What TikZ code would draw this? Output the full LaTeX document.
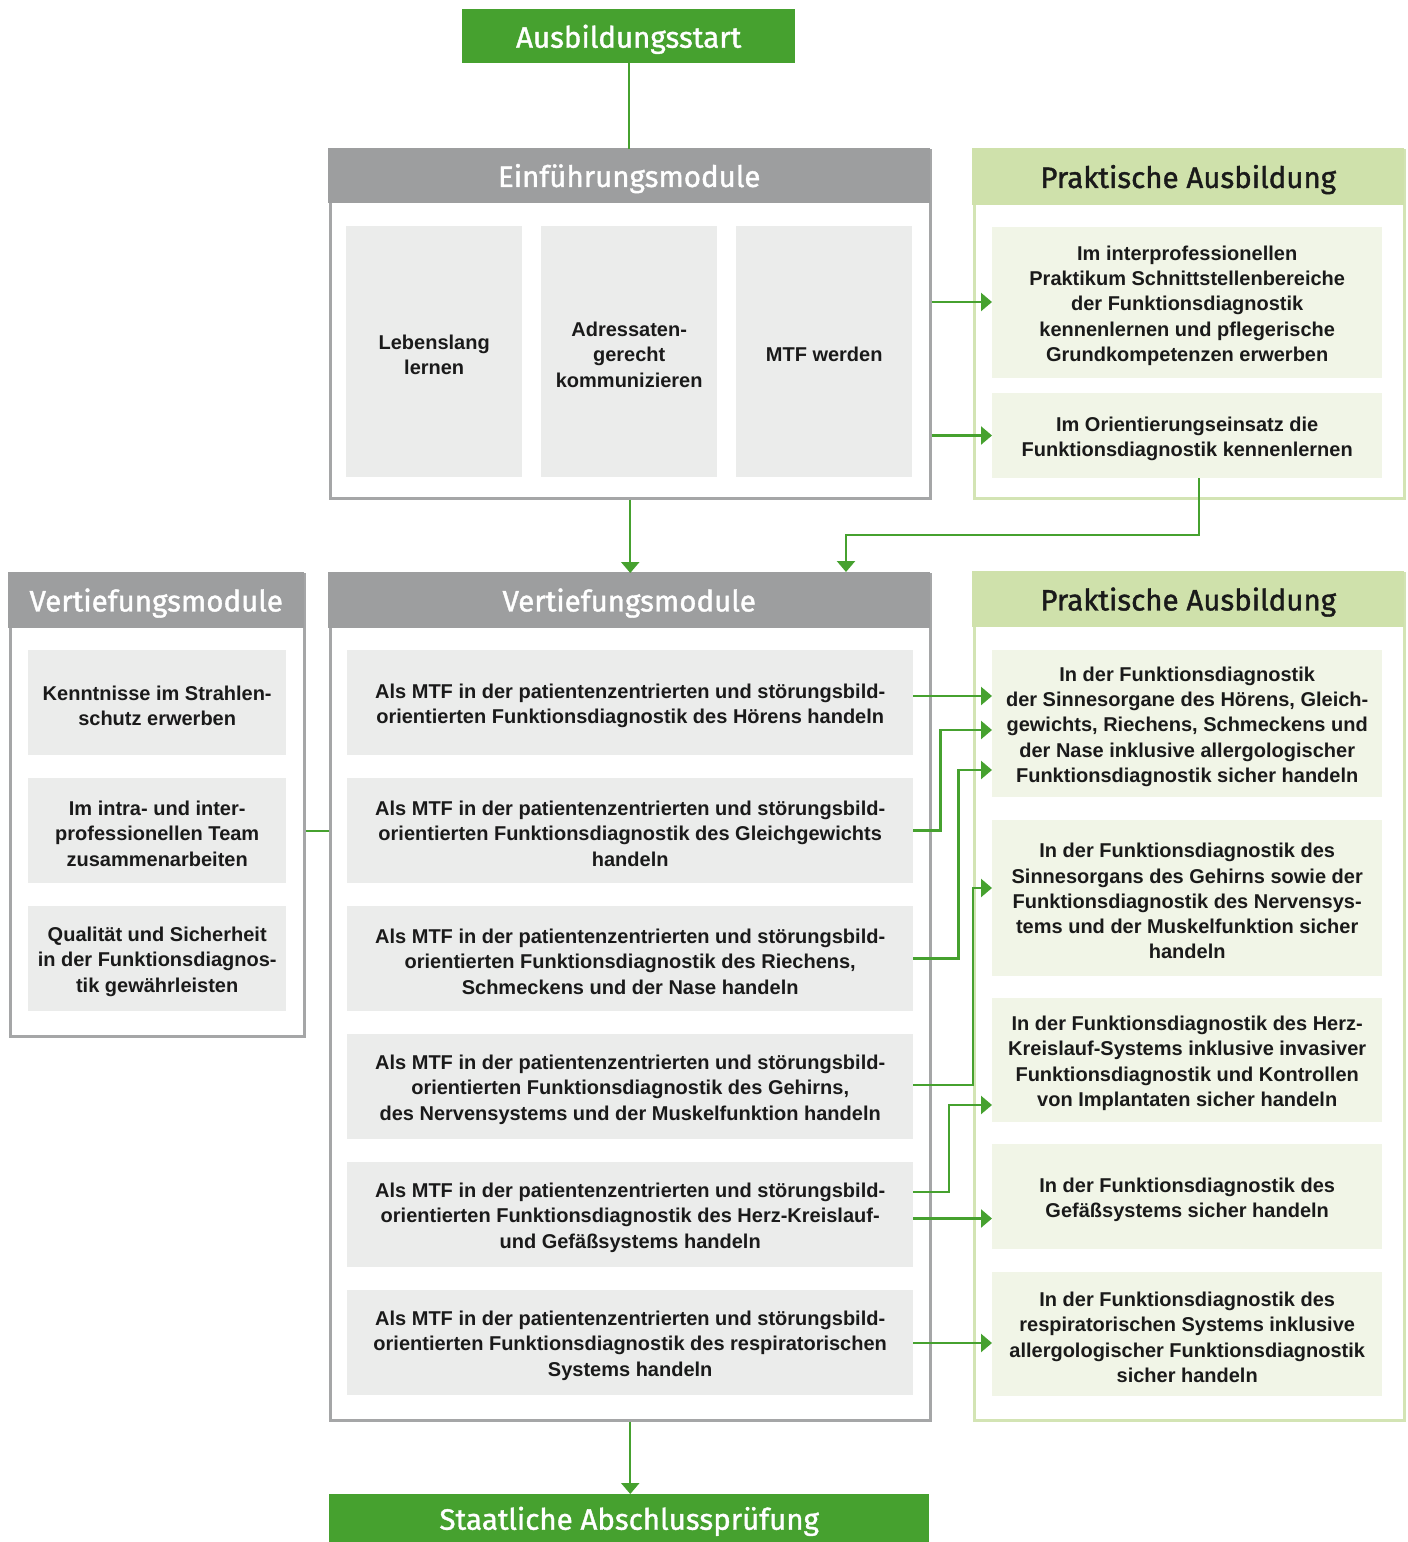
\documentclass[tikz,border=0pt]{standalone}
\usepackage{fontspec}
\setmainfont{Liberation Sans}
\newfontfamily\headfont{Fira Sans}[FakeBold=1.3]
\usetikzlibrary{arrows.meta}

\definecolor{flowgreen}{HTML}{46A12F}
\definecolor{headgray}{HTML}{9D9E9F}
\definecolor{framegray}{HTML}{A5A6A7}
\definecolor{cellgray}{HTML}{EBECEB}
\definecolor{headlime}{HTML}{CFE1AB}
\definecolor{framelime}{HTML}{D3E4B4}
\definecolor{celllime}{HTML}{F1F5E7}
\definecolor{ink}{HTML}{1A1A1A}

\newcommand\celltext{\bfseries\fontsize{20}{25.3}\selectfont}
\newcommand\titletext{\headfont\fontsize{29.5}{33}\selectfont}

\tikzset{
  cell/.style={anchor=north west, inner sep=0pt},
  cellcaption/.style={align=center, inner sep=0pt, text=ink, font=\celltext, yshift=-3pt},
  graycell/.style={cell, fill=cellgray},
  limecell/.style={cell, fill=celllime},
  panel/.style={anchor=north west, line width=2.5pt, inner sep=0pt, fill=white},
  graypanel/.style={panel, draw=framegray},
  limepanel/.style={panel, draw=framelime},
  headbar/.style={anchor=north west, inner sep=0pt, text depth=0pt, font=\titletext},
  grayhead/.style={headbar, fill=headgray, text=white},
  limehead/.style={headbar, fill=headlime, text=ink},
  milestone/.style={anchor=north west, inner sep=0pt, text depth=0pt, fill=flowgreen, text=white, font=\titletext},
  link/.style={draw=flowgreen, line width=2.4pt},
  flow/.style={link, -{Triangle[length=11pt,width=18pt]}},
}

\begin{document}
\begin{tikzpicture}[x=1pt,y=-1pt]
\useasboundingbox (0,0) rectangle (1408,1542);

% start and end milestones
\node[milestone, minimum width=333, minimum height=54] (start) at (462,9) {Ausbildungsstart};
\node[milestone, minimum width=600, minimum height=48] (exam) at (329,1494) {Staatliche Abschlussprüfung};

% introductory modules
\node[graypanel, minimum width=600, minimum height=348] (einf) at (329,149) {};
\node[grayhead, minimum width=602.5, minimum height=55] (einfh) at (327.75,147.75) {Einführungsmodule};
\node[graycell, minimum width=176, minimum height=251] (e1) at (346,226) {};
\node[cellcaption] (e1t) at (e1.center) {Lebenslang\\lernen};
\node[graycell, minimum width=176, minimum height=251] (e2) at (541,226) {};
\node[cellcaption] (e2t) at (e2.center) {Adressaten-\\gerecht\\kommunizieren};
\node[graycell, minimum width=176, minimum height=251] (e3) at (736,226) {};
\node[cellcaption] (e3t) at (e3.center) {MTF werden};

% first practical block
\node[limepanel, minimum width=430, minimum height=348] (pa) at (973,149) {};
\node[limehead, minimum width=432.5, minimum height=57] (pah) at (971.75,147.75) {Praktische Ausbildung};
\node[limecell, minimum width=390, minimum height=151] (pp1) at (992,227) {};
\node[cellcaption] (pp1t) at (pp1.center) {Im interprofessionellen\\Praktikum Schnittstellenbereiche\\der Funktionsdiagnostik\\kennenlernen und pflegerische\\Grundkompetenzen erwerben};
\node[limecell, minimum width=390, minimum height=85] (pp2) at (992,393) {};
\node[cellcaption] (pp2t) at (pp2.center) {Im Orientierungseinsatz die\\Funktionsdiagnostik kennenlernen};

% general advanced modules (left)
\node[graypanel, minimum width=294, minimum height=462] (vl) at (9,573) {};
\node[grayhead, minimum width=296.5, minimum height=56] (vlh) at (7.75,571.75) {Vertiefungsmodule};
\node[graycell, minimum width=258, minimum height=105] (vl1) at (28,650) {};
\node[cellcaption] (vl1t) at (vl1.center) {Kenntnisse im Strahlen-\\schutz erwerben};
\node[graycell, minimum width=258, minimum height=105] (vl2) at (28,778) {};
\node[cellcaption] (vl2t) at (vl2.center) {Im intra- und inter-\\professionellen Team\\zusammenarbeiten};
\node[graycell, minimum width=258, minimum height=105] (vl3) at (28,906) {};
\node[cellcaption] (vl3t) at (vl3.center) {Qualität und Sicherheit\\in der Funktionsdiagnos-\\tik gewährleisten};

% advanced modules (centre)
\node[graypanel, minimum width=600, minimum height=846] (vm) at (329,573) {};
\node[grayhead, minimum width=602.5, minimum height=56] (vmh) at (327.75,571.75) {Vertiefungsmodule};
\node[graycell, minimum width=566, minimum height=105] (vm1) at (347,650) {};
\node[cellcaption] (vm1t) at (vm1.center) {Als MTF in der patientenzentrierten und störungsbild-\\orientierten Funktionsdiagnostik des Hörens handeln};
\node[graycell, minimum width=566, minimum height=105] (vm2) at (347,778) {};
\node[cellcaption] (vm2t) at (vm2.center) {Als MTF in der patientenzentrierten und störungsbild-\\orientierten Funktionsdiagnostik des Gleichgewichts\\handeln};
\node[graycell, minimum width=566, minimum height=105] (vm3) at (347,906) {};
\node[cellcaption] (vm3t) at (vm3.center) {Als MTF in der patientenzentrierten und störungsbild-\\orientierten Funktionsdiagnostik des Riechens,\\Schmeckens und der Nase handeln};
\node[graycell, minimum width=566, minimum height=105] (vm4) at (347,1034) {};
\node[cellcaption] (vm4t) at (vm4.center) {Als MTF in der patientenzentrierten und störungsbild-\\orientierten Funktionsdiagnostik des Gehirns,\\des Nervensystems und der Muskelfunktion handeln};
\node[graycell, minimum width=566, minimum height=105] (vm5) at (347,1162) {};
\node[cellcaption] (vm5t) at (vm5.center) {Als MTF in der patientenzentrierten und störungsbild-\\orientierten Funktionsdiagnostik des Herz-Kreislauf-\\und Gefäßsystems handeln};
\node[graycell, minimum width=566, minimum height=105] (vm6) at (347,1290) {};
\node[cellcaption] (vm6t) at (vm6.center) {Als MTF in der patientenzentrierten und störungsbild-\\orientierten Funktionsdiagnostik des respiratorischen\\Systems handeln};

% second practical block
\node[limepanel, minimum width=430, minimum height=847] (pb) at (973,572) {};
\node[limehead, minimum width=432.5, minimum height=56] (pbh) at (971.75,570.75) {Praktische Ausbildung};
\node[limecell, minimum width=390, minimum height=147] (pr1) at (992,650) {};
\node[cellcaption] (pr1t) at (pr1.center) {In der Funktionsdiagnostik\\der Sinnesorgane des Hörens, Gleich-\\gewichts, Riechens, Schmeckens und\\der Nase inklusive allergologischer\\Funktionsdiagnostik sicher handeln};
\node[limecell, minimum width=390, minimum height=156] (pr2) at (992,820) {};
\node[cellcaption] (pr2t) at (pr2.center) {In der Funktionsdiagnostik des\\Sinnesorgans des Gehirns sowie der\\Funktionsdiagnostik des Nervensys-\\tems und der Muskelfunktion sicher\\handeln};
\node[limecell, minimum width=390, minimum height=124] (pr3) at (992,998) {};
\node[cellcaption] (pr3t) at (pr3.center) {In der Funktionsdiagnostik des Herz-\\Kreislauf-Systems inklusive invasiver\\Funktionsdiagnostik und Kontrollen\\von Implantaten sicher handeln};
\node[limecell, minimum width=390, minimum height=105] (pr4) at (992,1144) {};
\node[cellcaption] (pr4t) at (pr4.center) {In der Funktionsdiagnostik des\\Gefäßsystems sicher handeln};
\node[limecell, minimum width=390, minimum height=124] (pr5) at (992,1272) {};
\node[cellcaption] (pr5t) at (pr5.center) {In der Funktionsdiagnostik des\\respiratorischen Systems inklusive\\allergologischer Funktionsdiagnostik\\sicher handeln};

% connectors
\coordinate (vmdrop) at (846,572);
\draw[link] (start.south) -- (start.south |- einf.north);
\draw[flow] (einf.east |- 0,302) -- (pp1.west |- 0,302);
\draw[flow] (einf.east |- 0,435.5) -- (pp2.west |- 0,435.5);
\draw[flow] (einf.south) -- (einf.south |- vm.north);
\draw[flow] ([xshift=12pt]pp2.south) -- ++(0,56.5) -| (vmdrop);
\draw[link] (vl.east |- vl2.west) -- (vm.west |- vl2.west);

\draw[flow] (vm1.east |- 0,696) -- (pr1.west |- 0,696);
\draw[flow] (vm2.east |- 0,830.5) -- ++(27,0) |- (pr1.west |- 0,730);
\draw[flow] (vm3.east |- 0,958.5) -- ++(45,0) |- (pr1.west |- 0,770);
\draw[flow] (vm4.east |- 0,1085) -- ++(59.5,0) |- (pr2.west |- 0,888);
\draw[flow] (vm5.east |- 0,1192) -- ++(35.5,0) |- (pr3.west |- 0,1105);
\draw[flow] (vm5.east |- 0,1218.5) -- (pr4.west |- 0,1218.5);
\draw[flow] (vm6.east |- 0,1343) -- (pr5.west |- 0,1343);
\draw[flow] (vm.south) -- (vm.south |- exam.north);
\end{tikzpicture}
\end{document}
